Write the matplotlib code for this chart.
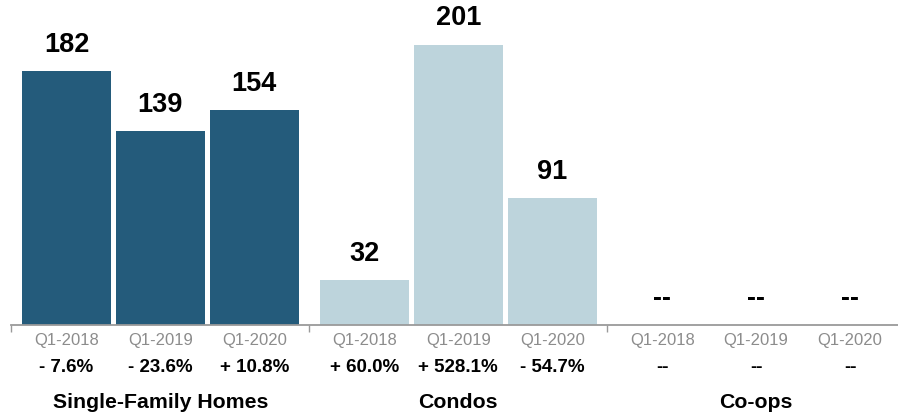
import matplotlib.pyplot as plt
from matplotlib.transforms import blended_transform_factory

# data
groups = ["Single-Family Homes", "Condos", "Co-ops"]
periods = ["Q1-2018", "Q1-2019", "Q1-2020"]
sfh_values = [182, 139, 154]
condo_values = [32, 201, 91]
coop_values = [None, None, None]
sfh_changes = ["- 7.6%", "- 23.6%", "+ 10.8%"]
condo_changes = ["+ 60.0%", "+ 528.1%", "- 54.7%"]
coop_changes = ["--", "--", "--"]

DARK = "#245b7b"
LIGHT = "#bdd4dc"
GRAY = "#8c8c8c"
AXIS = "#9a9a9a"

plt.rcParams["font.family"] = ["Liberation Sans", "DejaVu Sans"]

fig = plt.figure(figsize=(8.98, 4.16), dpi=100)
ax = fig.add_axes([11 / 898, 91 / 416, 887 / 898, 325 / 416])

GAP = 0.17
WIDTH = 0.95
series = [sfh_values, condo_values, coop_values]
changes = [sfh_changes, condo_changes, coop_changes]
colors = [DARK, LIGHT, LIGHT]

trans = blended_transform_factory(ax.transData, fig.transFigure)
for g, (vals, chg, col) in enumerate(zip(series, changes, colors)):
    xs = [g * (3 + GAP) + i for i in range(3)]
    for x, v, c, p in zip(xs, vals, chg, periods):
        if v is not None:
            ax.bar(x, v, width=WIDTH, color=col, linewidth=0)
            lab = str(v)
            y = v
        else:
            lab = "--"
            y = 0
        ax.annotate(lab, (x, y), xytext=(0, 19), textcoords="offset points",
                    ha="center", va="center", fontsize=19.5, fontweight="bold",
                    color="black")
        ax.text(x, 1 - 341 / 416, p, transform=trans, ha="center", va="center",
                fontsize=12, color=GRAY)
        ax.text(x, 1 - 368 / 416, c, transform=trans, ha="center", va="center",
                fontsize=13.5, fontweight="bold", color="black")
    ax.text(xs[1], 1 - 402 / 416, groups[g], transform=trans, ha="center",
            va="center", fontsize=15.3, fontweight="bold", color="black")

ax.set_xlim(-0.59, 2 * (3 + GAP) + 2 + 0.51)
ax.set_ylim(0, 233)
for s in ["top", "right", "left"]:
    ax.spines[s].set_visible(False)
ax.spines["bottom"].set_color(AXIS)
ax.spines["bottom"].set_linewidth(1.3)
ax.set_yticks([])
seps = [-0.59, 2 + GAP / 2 + 0.5, 2 * (3 + GAP) - GAP / 2 - 0.5]
ax.set_xticks(seps)
ax.set_xticklabels([])
ax.tick_params(axis="x", direction="out", length=5, width=1, color=AXIS)

fig.savefig("out.png", dpi=100)
